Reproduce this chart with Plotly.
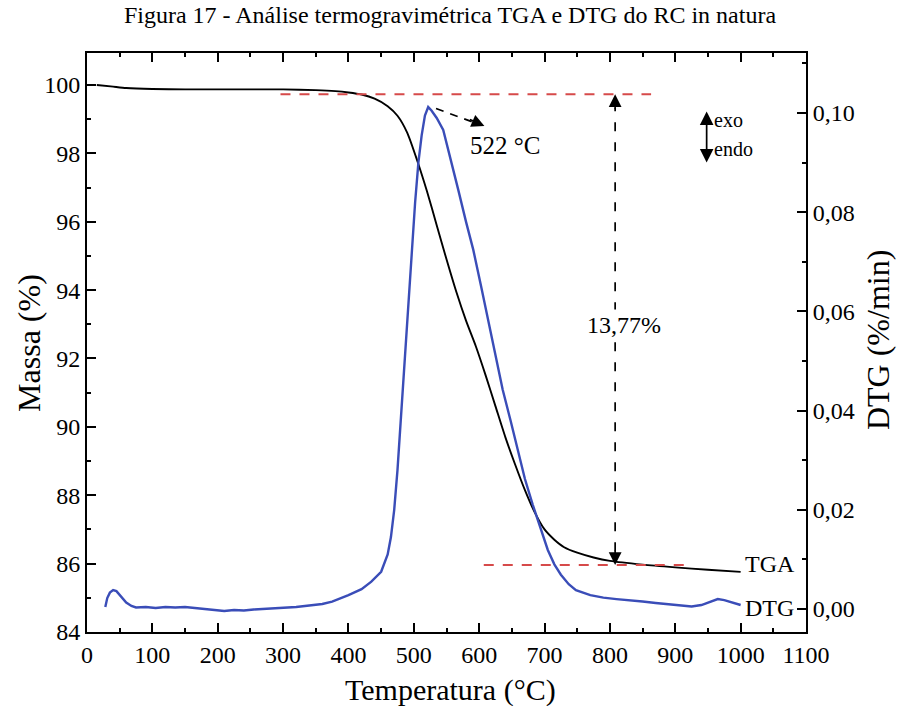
import plotly.graph_objects as go

# ---- TGA: mass (%) vs temperature (°C)
tga_temp = [15, 40, 60, 100, 150, 200, 250, 300, 350, 380, 400, 420, 440, 460, 475,
            490, 505, 520, 535, 550, 565, 580, 595, 610, 625, 640, 655, 670, 685,
            700, 715, 730, 750, 775, 800, 850, 900, 950, 1000]
tga_mass = [100.00, 99.95, 99.91, 99.88, 99.87, 99.87, 99.87, 99.87, 99.85, 99.82,
            99.78, 99.72, 99.60, 99.38, 99.10, 98.60, 97.80, 96.90, 95.90, 94.90,
            93.95, 93.10, 92.35, 91.50, 90.60, 89.70, 88.90, 88.15, 87.50, 87.00,
            86.70, 86.48, 86.32, 86.18, 86.08, 85.97, 85.89, 85.82, 85.76]

# ---- DTG: derivative (%/min) vs temperature (°C)
dtg_temp = [28, 31, 35, 40, 45, 50, 55, 60, 68, 75, 90, 105, 120, 135, 150, 165, 180,
            195, 210, 225, 240, 255, 270, 285, 300, 320, 340, 360, 375, 390, 400, 420,
            435, 450, 460, 465, 470, 475, 480, 486, 492, 497, 502, 507, 512, 517, 522,
            527, 535, 545, 556, 568, 580, 591, 603, 614, 625, 636, 648, 659, 670, 682,
            694, 705, 715, 725, 737, 748, 770, 790, 810, 830, 850, 870, 890, 910, 925,
            940, 955, 965, 975, 985, 995, 1000]
dtg_vals = [0.0004, 0.0022, 0.0033, 0.0038, 0.0036, 0.0028, 0.0020, 0.0013, 0.0006,
            0.0003, 0.0004, 0.0002, 0.0004, 0.0003, 0.0004, 0.0002, -0.0001, -0.0003,
            -0.0004, -0.0002, -0.0003, -0.0001, 0.0000, 0.0001, 0.0002, 0.0004, 0.0007,
            0.0010, 0.0015, 0.0022, 0.0028, 0.0040, 0.0055, 0.0075, 0.0110, 0.0145,
            0.0200, 0.0280, 0.0380, 0.0500, 0.0620, 0.0730, 0.0820, 0.0900, 0.0955,
            0.0995, 0.1012, 0.1005, 0.0990, 0.0966, 0.0910, 0.0845, 0.0780, 0.0724,
            0.0650, 0.0583, 0.0510, 0.0442, 0.0380, 0.0321, 0.0262, 0.0210, 0.0160,
            0.0119, 0.0090, 0.0069, 0.0050, 0.0038, 0.0028, 0.0023, 0.0020, 0.0018,
            0.0015, 0.0012, 0.0009, 0.0006, 0.0005, 0.0008, 0.0016, 0.0020, 0.0018,
            0.0014, 0.0010, 0.0008]

# ---- annotation values
mass_onset = 99.73      # upper reference level
mass_residue = 85.96    # residual mass level
peak_temp = 522         # DTG peak temperature
onset_line_span = [296, 863]
residue_line_span = [607, 924]
loss_arrow_temp = 808

x_ticks = list(range(0, 1101, 100))
mass_ticks = list(range(84, 101, 2))
dtg_ticks = [0.00, 0.02, 0.04, 0.06, 0.08, 0.10]

FONT = "Liberation Serif"
BLUE = "#3a4db8"
RED = "#d64a4a"

fig = go.Figure()
fig.add_trace(go.Scatter(x=tga_temp, y=tga_mass, mode="lines",
                         line=dict(color="black", width=1.9, shape="spline", smoothing=0.6),
                         name="TGA", showlegend=False))
fig.add_trace(go.Scatter(x=dtg_temp, y=dtg_vals, mode="lines", yaxis="y2",
                         line=dict(color=BLUE, width=2.4),
                         name="DTG", showlegend=False))

# reference levels (red dashed)
fig.add_shape(type="line", xref="x", yref="y", x0=onset_line_span[0], x1=onset_line_span[1],
              y0=mass_onset, y1=mass_onset, line=dict(color=RED, width=2, dash="10px,9px"))
fig.add_shape(type="line", xref="x", yref="y", x0=residue_line_span[0], x1=residue_line_span[1],
              y0=mass_residue, y1=mass_residue, line=dict(color=RED, width=2, dash="10px,9px"))

# mass-loss double arrow (dashed shaft + two heads)
fig.add_shape(type="line", xref="x", yref="y", x0=loss_arrow_temp, x1=loss_arrow_temp,
              y0=mass_residue + 0.4, y1=mass_onset - 0.4,
              line=dict(color="black", width=1.7, dash="9px,11px"))
for tip, ay in [(mass_onset, 16), (mass_residue, -16)]:
    fig.add_annotation(x=loss_arrow_temp, y=tip, xref="x", yref="y", text="",
                       showarrow=True, ax=0, ay=ay, arrowhead=2, arrowsize=1.6,
                       arrowwidth=1.6, arrowcolor="black")
loss_text = f"{mass_onset - mass_residue:.2f}".replace(".", ",") + "%"
fig.add_annotation(x=loss_arrow_temp + 13, y=92.98, xref="x", yref="y", text=loss_text,
                   xanchor="center", yanchor="middle", showarrow=False,
                   bgcolor="white", borderpad=2,
                   font=dict(family=FONT, size=24, color="black"))

# peak marker arrow
peak_val = max(dtg_vals)
fig.add_shape(type="line", xref="x", yref="y2", x0=peak_temp + 12, y0=peak_val - 0.0003,
              x1=peak_temp + 76, y1=peak_val - 0.0034,
              line=dict(color="black", width=1.7, dash="8px,7px"))
fig.add_annotation(x=peak_temp + 86, y=peak_val - 0.0038, xref="x", yref="y2", text="",
                   showarrow=True, ax=-16, ay=-7, arrowhead=2, arrowsize=1.6,
                   arrowwidth=1.6, arrowcolor="black")
fig.add_annotation(x=639, y=0.0935, xref="x", yref="y2", text=f"{peak_temp} °C",
                   xanchor="center", yanchor="middle", showarrow=False,
                   font=dict(family=FONT, size=25, color="black"))

# exo / endo indicator
fig.add_annotation(x=948, y=0.1003, xref="x", yref="y2", ax=948, ay=0.0897,
                   axref="x", ayref="y2", text="", showarrow=True, arrowside="end+start",
                   arrowhead=2, arrowsize=1.6, arrowwidth=1.7, arrowcolor="black")
fig.add_annotation(x=956, y=0.0986, xref="x", yref="y2", text="exo", xanchor="left",
                   yanchor="middle", showarrow=False,
                   font=dict(family=FONT, size=20, color="black"))
fig.add_annotation(x=956, y=0.0927, xref="x", yref="y2", text="endo", xanchor="left",
                   yanchor="middle", showarrow=False,
                   font=dict(family=FONT, size=20, color="black"))

# curve labels
fig.add_annotation(x=1004, y=85.98, xref="x", yref="y", text="TGA", xanchor="left",
                   yanchor="middle", showarrow=False,
                   font=dict(family=FONT, size=24, color="black"))
fig.add_annotation(x=1004, y=0.0003, xref="x", yref="y2", text="DTG", xanchor="left",
                   yanchor="middle", showarrow=False,
                   font=dict(family=FONT, size=24, color="black"))

# axis titles
fig.add_annotation(x=-0.0815, y=0.50, xref="paper", yref="paper", text="Massa (%)",
                   textangle=-90, xanchor="center", yanchor="middle", showarrow=False,
                   font=dict(family=FONT, size=32, color="black"))
fig.add_annotation(x=1.10, y=0.504, xref="paper", yref="paper", text="DTG (%/min)",
                   textangle=-90, xanchor="center", yanchor="middle", showarrow=False,
                   font=dict(family=FONT, size=32, color="black"))
fig.add_annotation(x=0.505, y=-0.1002, xref="paper", yref="paper", text="Temperatura (°C)",
                   xanchor="center", yanchor="middle", showarrow=False,
                   font=dict(family=FONT, size=30, color="black"))

axis_common = dict(showgrid=False, zeroline=False, showline=True, linecolor="black",
                   linewidth=2, ticks="inside", ticklen=9, tickwidth=1.6,
                   tickcolor="black", tickfont=dict(family=FONT, size=24, color="black"))

fig.update_layout(
    width=900, height=706,
    margin=dict(l=87, r=94, t=53, b=74),
    paper_bgcolor="white", plot_bgcolor="white",
    separators=", ",
    title=dict(text="Figura 17 - Análise termogravimétrica TGA e DTG do RC in natura",
               x=0.5, xanchor="center", y=1 - 15 / 706, yanchor="middle",
               font=dict(family=FONT, size=24, color="black")),
    xaxis=dict(range=[0, 1100], tickvals=x_ticks, mirror="ticks",
               minor=dict(dtick=50, tick0=0, ticks="inside", ticklen=4, tickwidth=1.6,
                          tickcolor="black"), **axis_common),
    yaxis=dict(range=[84, 100.935], tickvals=mass_ticks,
               minor=dict(dtick=1, tick0=84, ticks="inside", ticklen=4, tickwidth=1.6,
                          tickcolor="black"), **axis_common),
    yaxis2=dict(range=[-0.00464, 0.1121], overlaying="y", side="right",
                tickvals=dtg_ticks, tickformat=".2f",
                minor=dict(dtick=0.01, tick0=0, ticks="inside", ticklen=4, tickwidth=1.6,
                           tickcolor="black"), **axis_common),
)

fig.write_html("out.html")
